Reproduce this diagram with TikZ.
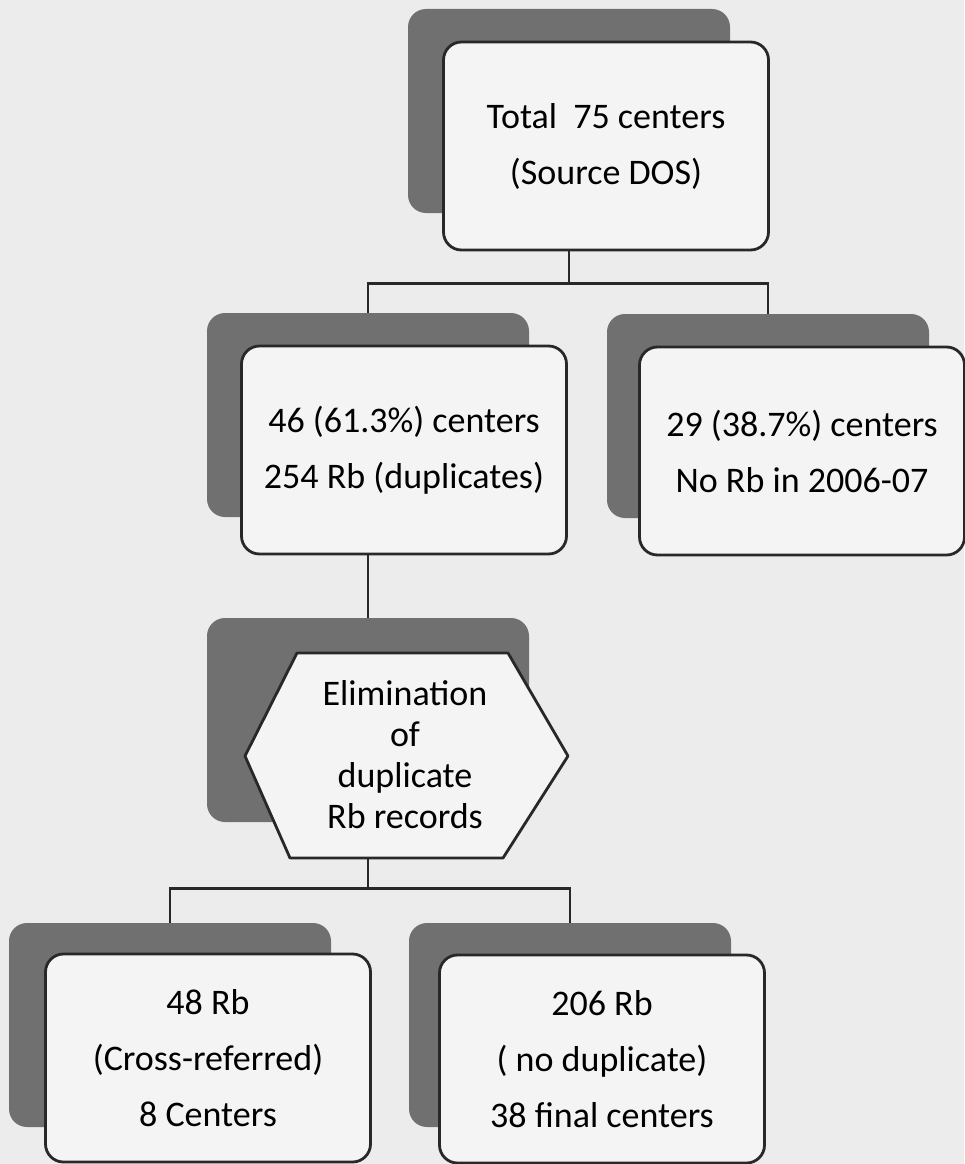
\documentclass[tikz,border=0pt]{standalone}
\usepackage{fontspec}
\setmainfont{Carlito}
\usepackage{xcolor}

\definecolor{paper}{RGB}{236,236,236}
\definecolor{boxfill}{RGB}{244,244,244}
\definecolor{shade}{RGB}{112,112,112}
\definecolor{ink}{RGB}{40,40,40}

\begin{document}
\begin{tikzpicture}[x=1pt, y=-1pt,
  shadowbox/.style={fill=shade, rounded corners=18pt, minimum width=322pt, minimum height=204pt},
  box/.style={draw=ink, line width=2.8pt, fill=boxfill, rounded corners=18pt, minimum width=325pt, minimum height=208pt, align=center, font=\fontsize{36}{56}\selectfont},
  hextext/.style={inner sep=0pt, align=center, font=\fontsize{36}{41}\selectfont},
  link/.style={draw=ink, line width=2.8pt}
]
\useasboundingbox (0,0) rectangle (964,1164);
\fill[paper] (0,0) rectangle (964,1164);

% dark back plates
\node[shadowbox] (total) at (569,111) {};
\node[shadowbox] (dup) at (368,415) {};
\node[shadowbox] (nodup) at (768,416) {};
\node[shadowbox] (elimback) at (368,720) {};
\node[shadowbox] (cross) at (170,1025) {};
\node[shadowbox] (final) at (570,1025) {};

% connectors
\draw[link] (total.south) -- ++(0,70) -| (dup.north);
\draw[link] (total.south) ++(0,70) -| (nodup.north);
\draw[link] (dup.south) -- (elimback.north);
\draw[link] (elimback.south) -- ++(0,66) -| (cross.north);
\draw[link] (elimback.south) ++(0,66) -| (final.north);

% front boxes
\node[box] (totaltxt) at (606,146) {Total\ \ 75 centers\\(Source DOS)};
\node[box] (duptxt) at (404,450) {46 (61.3\%) centers\\254 Rb (duplicates)};
\node[box] (noduptxt) at (802,451) {29 (38.7\%) centers\\No Rb in 2006-07};
\draw[draw=ink, line width=2.8pt, fill=boxfill, line join=round]
  (245,756) -- (297,653) -- (508,653) -- (568,756) -- (503,858) -- (290,858) -- cycle;
\node[hextext] (elim) at (405,755) {Elimination\\of\\duplicate\\Rb records};
\node[box] (crosstxt) at (208,1058) {48 Rb\\(Cross-referred)\\8 Centers};
\node[box] (finaltxt) at (602,1059) {206 Rb\\( no duplicate)\\38 final centers};
\end{tikzpicture}
\end{document}
